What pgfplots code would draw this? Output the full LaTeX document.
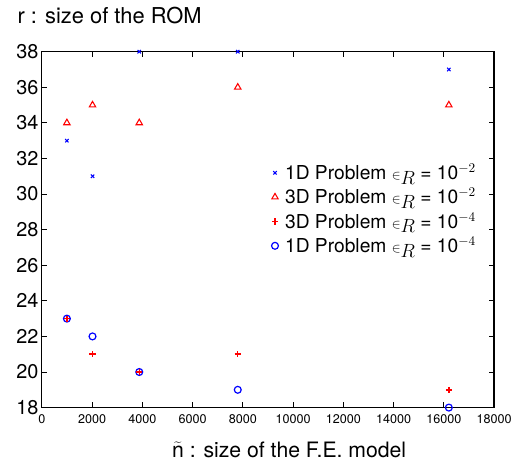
\documentclass[border=0pt]{standalone}
\usepackage{pgfplots}
\pgfplotsset{compat=1.18}
\usepackage{fontspec}
\setmainfont{TeX Gyre Heros}
\newcommand{\inR}{$\scriptstyle\in$\raisebox{-3.5pt}{$R$}}
\begin{document}
\begin{tikzpicture}
\begin{axis}[
  scale only axis,
  width=341.25pt, height=268.5pt,
  xmin=0, xmax=18000, ymin=18, ymax=38,
  xtick={0,2000,...,18000},
  ytick={18,20,...,38},
  scaled x ticks=false,
  /pgf/number format/assume math mode=true,
  /pgf/number format/1000 sep={},
  xticklabel style={font=\fontsize{9.5}{11}\selectfont, yshift=-2pt},
  yticklabel style={font=\fontsize{15}{17}\selectfont, xshift=1pt},
  tick style={black, line width=0.6pt},
  major tick length=4pt,
  axis line style={line width=1pt},
  xlabel={$\widetilde{\mbox{n}}$ : size of the F.E. model},
  xlabel style={font=\fontsize{16}{18}\selectfont, at={(rel axis cs:0.5,0)}, anchor=base, yshift=-37.5pt, xshift=16pt},
  ylabel={r : size of the ROM},
  ylabel style={font=\fontsize{16.5}{18}\selectfont, rotate=-90, at={(rel axis cs:0,1)}, anchor=base west, xshift=-21.75pt, yshift=21pt},
  legend style={draw=none, fill=none, at={(0.975,0.70)}, anchor=north east, font=\fontsize{14.5}{17}\selectfont, row sep=1.2pt},
  legend cell align=left,
]
\addplot[only marks, color=blue, mark=x, mark size=1.8pt, line width=0.8pt] coordinates {(1000,33) (2020,31) (3880,38) (7800,38) (16200,37)};
\addlegendentry{\hspace{3pt}1D Problem \inR{} = 10$^{-2}$}
\addplot[only marks, color=red, mark=triangle, mark size=2.8pt, line width=0.8pt] coordinates {(1000,34) (2020,35) (3880,34) (7800,36) (16200,35)};
\addlegendentry{\hspace{3pt}3D Problem \inR{} = 10$^{-2}$}
\addplot[only marks, color=red, mark=+, mark size=2.3pt, line width=1.1pt, mark options={color=red}] coordinates {(1000,23) (2020,21) (3880,20) (7800,21) (16200,19)};
\addlegendentry{\hspace{3pt}3D Problem \inR{} = 10$^{-4}$}
\addplot[only marks, color=blue, mark=o, mark size=2.6pt, line width=0.9pt] coordinates {(1000,23) (2020,22) (3880,20) (7800,19) (16200,18)};
\addlegendentry{\hspace{3pt}1D Problem \inR{} = 10$^{-4}$}
\addplot[only marks, color=red, mark=+, mark size=2.3pt, line width=1.1pt, mark options={color=red}, forget plot] coordinates {(1000,23) (3880,20)};
\end{axis}
\path ([shift={(-31.5pt,-46.5pt)}]current axis.south west) rectangle ([shift={(14.25pt,39pt)}]current axis.north east);
\end{tikzpicture}
\end{document}
